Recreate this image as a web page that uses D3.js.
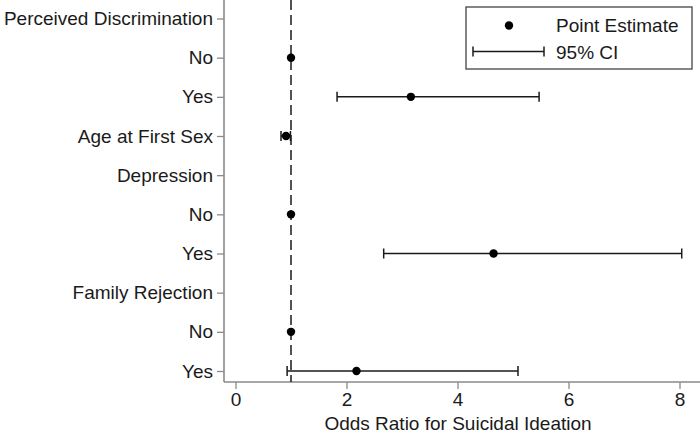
<!DOCTYPE html>
<html>
<head>
<meta charset="utf-8">
<title>Odds Ratio for Suicidal Ideation</title>
<script src="https://cdn.jsdelivr.net/npm/d3@7"></script>
<style>
  body { margin: 0; background: #fff; }
  svg { font-family: "Liberation Sans", Arial, Helvetica, sans-serif; }
</style>
</head>
<body>
<div id="viz"></div>
<script>
// rows from top to bottom, headings have no estimate
var labels = ["Perceived Discrimination", "No", "Yes", "Age at First Sex", "Depression",
              "No", "Yes", "Family Rejection", "No", "Yes"];
var estimate = [null, 1, 3.16, 0.91, null, 1, 4.65, null, 1, 2.18];
var ciLow    = [null, null, 1.83, 0.82, null, null, 2.67, null, null, 0.93];
var ciHigh   = [null, null, 5.47, 0.99, null, null, 8.04, null, null, 5.09];
var xTicks = [0, 2, 4, 6, 8];

var width = 700, height = 436;
var plotLeft = 224, plotRight = 700, plotTop = 0, plotBottom = 382;
var fontSize = "19px";

var svg = d3.select("#viz").append("svg")
    .attr("width", width).attr("height", height);

var x = d3.scaleLinear().domain([0, 8]).range([235.5, 679.5]);
var y = d3.scalePoint().domain(d3.range(labels.length)).range([18.5, 371]);

var axisColor = "#8a8a8a", inkColor = "#1a1a1a";

// left axis
var yAxis = svg.append("g")
    .attr("transform", "translate(" + plotLeft + ",0)")
    .call(d3.axisLeft(y).tickFormat(function(i) { return labels[i]; }).tickSize(7).tickPadding(4));
yAxis.select(".domain").remove();
yAxis.selectAll("line").attr("stroke", axisColor).attr("stroke-width", 1.3);
yAxis.selectAll("text").attr("fill", inkColor).style("font-size", fontSize);
svg.append("line")
    .attr("x1", plotLeft).attr("x2", plotLeft)
    .attr("y1", plotTop).attr("y2", plotBottom)
    .attr("stroke", axisColor).attr("stroke-width", 1.6);

// bottom axis
var xAxis = svg.append("g")
    .attr("transform", "translate(0," + plotBottom + ")")
    .call(d3.axisBottom(x).tickValues(xTicks).tickSize(7).tickPadding(4));
xAxis.select(".domain").remove();
xAxis.selectAll("line").attr("stroke", axisColor).attr("stroke-width", 1.3);
xAxis.selectAll("text").attr("fill", inkColor).style("font-size", fontSize);
svg.append("line")
    .attr("x1", plotLeft).attr("x2", plotRight)
    .attr("y1", plotBottom).attr("y2", plotBottom)
    .attr("stroke", axisColor).attr("stroke-width", 1.6);

svg.append("text")
    .attr("x", 458).attr("y", 430)
    .attr("text-anchor", "middle")
    .attr("fill", inkColor)
    .style("font-size", fontSize)
    .text("Odds Ratio for Suicidal Ideation");

// reference line at OR = 1
svg.append("line")
    .attr("x1", x(1)).attr("x2", x(1))
    .attr("y1", plotTop).attr("y2", plotBottom)
    .attr("stroke", inkColor).attr("stroke-width", 1.5)
    .attr("stroke-dasharray", "10,5");

// confidence intervals
var rows = d3.range(labels.length).filter(function(i) { return ciLow[i] !== null; });
var ci = svg.append("g").attr("stroke", inkColor).attr("stroke-width", 1.5);
ci.selectAll("line.ci").data(rows).enter().append("line")
    .attr("x1", function(i) { return x(ciLow[i]); })
    .attr("x2", function(i) { return x(ciHigh[i]); })
    .attr("y1", function(i) { return y(i); })
    .attr("y2", function(i) { return y(i); });
ci.selectAll("line.capl").data(rows).enter().append("line")
    .attr("x1", function(i) { return x(ciLow[i]); })
    .attr("x2", function(i) { return x(ciLow[i]); })
    .attr("y1", function(i) { return y(i) - 5; })
    .attr("y2", function(i) { return y(i) + 5; });
ci.selectAll("line.capr").data(rows).enter().append("line")
    .attr("x1", function(i) { return x(ciHigh[i]); })
    .attr("x2", function(i) { return x(ciHigh[i]); })
    .attr("y1", function(i) { return y(i) - 5; })
    .attr("y2", function(i) { return y(i) + 5; });

// point estimates
var pts = d3.range(labels.length).filter(function(i) { return estimate[i] !== null; });
svg.selectAll("circle.pt").data(pts).enter().append("circle")
    .attr("cx", function(i) { return x(estimate[i]); })
    .attr("cy", function(i) { return y(i); })
    .attr("r", 4.2)
    .attr("fill", "#000");

// legend
var legend = svg.append("g");
legend.append("rect")
    .attr("x", 466).attr("y", 7).attr("width", 226).attr("height", 62)
    .attr("fill", "#fff").attr("stroke", "#444").attr("stroke-width", 1.3);
legend.append("circle").attr("cx", 509).attr("cy", 25.5).attr("r", 4.2).attr("fill", "#000");
legend.append("line").attr("x1", 473).attr("x2", 544).attr("y1", 51.5).attr("y2", 51.5)
    .attr("stroke", inkColor).attr("stroke-width", 1.5);
legend.append("line").attr("x1", 473).attr("x2", 473).attr("y1", 46.5).attr("y2", 56.5)
    .attr("stroke", inkColor).attr("stroke-width", 1.5);
legend.append("line").attr("x1", 544).attr("x2", 544).attr("y1", 46.5).attr("y2", 56.5)
    .attr("stroke", inkColor).attr("stroke-width", 1.5);
legend.append("text").attr("x", 556).attr("y", 32).attr("fill", inkColor)
    .style("font-size", fontSize).text("Point Estimate");
legend.append("text").attr("x", 556).attr("y", 58.5).attr("fill", inkColor)
    .style("font-size", fontSize).text("95% CI");
</script>
</body>
</html>
